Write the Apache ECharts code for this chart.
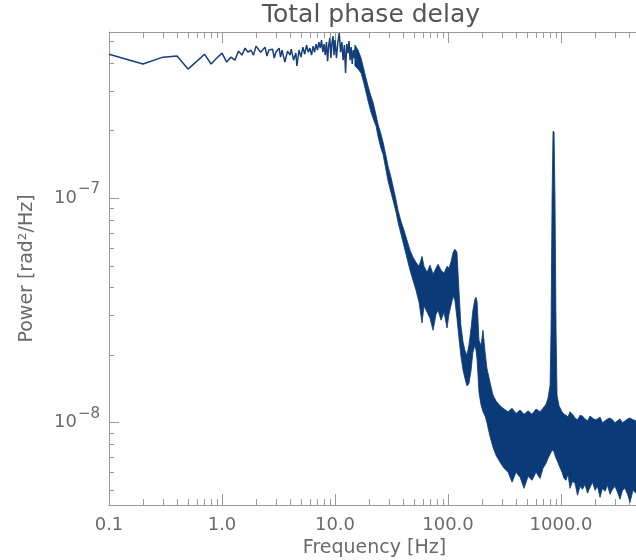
<!DOCTYPE html>
<html>
<head>
<meta charset="utf-8">
<title>Total phase delay</title>
<script src="https://cdn.jsdelivr.net/npm/echarts@6.0.0/dist/echarts.min.js"></script>
<style>
  html, body { margin: 0; padding: 0; background: #fff; }
  #chart { width: 636px; height: 560px; }
</style>
</head>
<body>
<div id="chart"></div>
<script>
// axis ranges: Hz / rad^2/Hz
const xMin = 0.1, xMax = 5000
const yMin = 4.3e-9, yMax = 5.5e-7

// tick positions (IDL style log axes)
const xLabelTicks = [0.1, 1, 10, 100, 1000]
const xMinorTicks = [0.2, 0.3, 0.4, 0.5, 0.6, 0.7, 0.8, 0.9, 2, 3, 4, 5, 6, 7, 8, 9,
  20, 30, 40, 50, 60, 70, 80, 90, 200, 300, 400, 500, 600, 700, 800, 900, 2000, 3000, 4000, 5000]
const yLabelTicks = [1e-8, 1e-7]
const yMinorTicks = [5e-9, 6e-9, 7e-9, 8e-9, 9e-9, 2e-8, 3e-8, 4e-8, 5e-8, 6e-8, 7e-8, 8e-8, 9e-8,
  2e-7, 3e-7, 4e-7, 5e-7]

// low frequency part: a single visible trace
const lowFreq = [0.1, 0.2, 0.3, 0.4, 0.5, 0.6, 0.7, 0.8, 0.9, 1.0, 1.1, 1.2, 1.3, 1.4, 1.5, 1.6, 1.7, 1.8, 1.9, 2.0,
  2.2, 2.4, 2.5, 2.6, 2.8, 2.9, 3.0, 3.2, 3.3, 3.4, 3.6, 3.8, 4.0, 4.1, 4.3, 4.5, 4.6, 4.8, 5.0,
  5.2, 5.4, 5.6, 5.8, 6.0, 6.2, 6.4, 6.6, 6.8, 7.0, 7.2, 7.4, 7.6, 7.8, 8.0, 8.2, 8.4, 8.6, 8.8, 9.0,
  9.2, 9.4, 9.6, 9.8, 10.0, 10.3, 10.6, 10.9, 11.2, 11.5, 11.8, 12.1, 12.4, 12.7, 13.0, 13.3, 13.6,
  13.9, 14.2, 14.5, 14.8, 15.1, 15.5, 16.0]
const lowPower = [43.8e-8, 39.6e-8, 42.5e-8, 43.0e-8, 37.6e-8, 40.8e-8, 43.8e-8, 39.6e-8, 42.1e-8, 44.3e-8,
  40.4e-8, 42.5e-8, 41.2e-8, 45.2e-8, 43.4e-8, 46.6e-8, 44.7e-8, 45.7e-8, 43.4e-8, 47.6e-8,
  44.7e-8, 47.1e-8, 43.0e-8, 45.7e-8, 46.1e-8, 42.1e-8, 44.7e-8, 46.6e-8, 42.5e-8, 45.7e-8,
  40.4e-8, 45.2e-8, 43.4e-8, 46.1e-8, 41.2e-8, 44.3e-8, 38.8e-8, 45.7e-8, 42.5e-8,
  47.1e-8, 43.8e-8, 48.1e-8, 44.7e-8, 46.6e-8, 43.4e-8, 47.6e-8, 44.7e-8, 48.6e-8, 45.7e-8,
  49.6e-8, 46.6e-8, 50.6e-8, 44.7e-8, 48.6e-8, 43.4e-8, 49.6e-8, 40.8e-8, 48.1e-8, 51.7e-8,
  42.1e-8, 49.1e-8, 52.7e-8, 43.4e-8, 50.6e-8, 42.1e-8, 49.6e-8, 54.4e-8, 44.7e-8, 49.6e-8,
  41.2e-8, 48.1e-8, 36.1e-8, 48.6e-8, 44.3e-8, 50.1e-8, 41.2e-8, 47.1e-8, 39.6e-8, 45.7e-8,
  42.1e-8, 46.6e-8, 40.4e-8, 42.1e-8]

// above ~15 Hz the spectrum is a dense noisy band: upper and lower envelope
const bandFreq = [15.0, 16.0, 17.0, 17.7, 18.8, 19.6, 20.8, 21.7, 23.1, 24.0,
  25.5, 26.6, 28.3, 29.4, 31.3, 32.6, 34.7, 36.1, 38.4, 40.8,
  43.4, 46.1, 49.0, 52.1, 55.4, 58.9, 61.3, 65.2, 69.3, 73.7,
  78.3, 81.6, 86.8, 92.2, 98.0, 102, 106, 111, 115, 120,
  125, 130, 136, 141, 147, 153, 160, 166, 173, 177,
  181, 188, 196, 204, 213, 221, 235, 250, 266, 289,
  313, 340, 369, 400, 434, 471, 511, 554, 601, 652,
  693, 737, 768, 800, 816, 833, 850, 868, 885, 904,
  922, 960, 1020, 1063, 1107, 1153, 1201, 1264, 1330, 1400,
  1473, 1550, 1631, 1716, 1806, 1900, 2000, 2104, 2214, 2329,
  2451, 2579, 2714, 2856, 3006, 3162, 3328, 3501, 3685, 3877,
  4080, 4338, 4613, 4802, 5000]
const bandHigh = [48.1e-8, 45.7e-8, 42.1e-8, 38.8e-8, 34.3e-8, 31.6e-8, 28.5e-8, 26.8e-8, 23.4e-8, 21.4e-8,
  19.3e-8, 17.8e-8, 15.4e-8, 14.0e-8, 12.4e-8, 11.3e-8, 9.80e-8, 8.84e-8, 7.90e-8, 7.20e-8,
  6.50e-8, 5.87e-8, 5.46e-8, 5.18e-8, 4.98e-8, 5.51e-8, 4.98e-8, 4.68e-8, 5.03e-8, 4.59e-8,
  4.88e-8, 5.08e-8, 4.78e-8, 4.63e-8, 4.98e-8, 4.88e-8, 5.18e-8, 5.75e-8, 5.93e-8, 5.75e-8,
  3.89e-8, 2.72e-8, 2.28e-8, 2.10e-8, 2.00e-8, 2.21e-8, 2.64e-8, 3.17e-8, 3.55e-8, 3.62e-8,
  3.44e-8, 2.33e-8, 2.21e-8, 2.58e-8, 2.06e-8, 1.75e-8, 1.52e-8, 1.33e-8, 1.25e-8, 1.19e-8,
  1.15e-8, 1.12e-8, 1.16e-8, 1.10e-8, 1.14e-8, 1.09e-8, 1.13e-8, 1.09e-8, 1.15e-8, 1.12e-8,
  1.16e-8, 1.21e-8, 1.29e-8, 1.47e-8, 2.58e-8, 9.80e-8, 19.9e-8, 19.7e-8, 9.80e-8, 2.58e-8,
  1.33e-8, 1.19e-8, 1.12e-8, 1.09e-8, 1.08e-8, 1.06e-8, 1.12e-8, 1.09e-8, 1.05e-8, 1.03e-8,
  1.08e-8, 1.07e-8, 1.04e-8, 1.02e-8, 1.07e-8, 1.05e-8, 1.03e-8, 1.04e-8, 1.06e-8, 1.00e-8,
  1.02e-8, 1.04e-8, 1.05e-8, 1.03e-8, 1.00e-8, 1.02e-8, 1.04e-8, 1.00e-8, 1.02e-8, 1.04e-8,
  1.05e-8, 1.03e-8, 1.02e-8, 1.00e-8, 1.03e-8]
const bandLow = [38.8e-8, 37.6e-8, 36.1e-8, 33.6e-8, 29.7e-8, 27.1e-8, 24.2e-8, 22.7e-8, 20.9e-8, 18.9e-8,
  16.7e-8, 15.7e-8, 13.3e-8, 12.0e-8, 10.6e-8, 9.80e-8, 8.66e-8, 7.82e-8, 6.91e-8, 6.11e-8,
  5.40e-8, 4.78e-8, 4.31e-8, 3.89e-8, 3.44e-8, 2.78e-8, 3.31e-8, 3.11e-8, 2.92e-8, 2.58e-8,
  3.04e-8, 3.17e-8, 2.86e-8, 3.11e-8, 2.64e-8, 3.04e-8, 3.31e-8, 3.66e-8, 3.51e-8, 2.92e-8,
  2.38e-8, 1.98e-8, 1.71e-8, 1.58e-8, 1.46e-8, 1.49e-8, 1.71e-8, 2.06e-8, 2.21e-8, 2.10e-8,
  1.90e-8, 1.36e-8, 1.20e-8, 1.12e-8, 1.07e-8, 1.00e-8, 0.870e-8, 0.777e-8, 0.716e-8, 0.666e-8,
  0.627e-8, 0.602e-8, 0.543e-8, 0.602e-8, 0.571e-8, 0.510e-8, 0.577e-8, 0.554e-8, 0.602e-8, 0.565e-8,
  0.627e-8, 0.659e-8, 0.694e-8, 0.723e-8, 0.738e-8, 0.753e-8, 0.753e-8, 0.738e-8, 0.716e-8, 0.694e-8,
  0.680e-8, 0.646e-8, 0.602e-8, 0.565e-8, 0.554e-8, 0.589e-8, 0.510e-8, 0.548e-8, 0.537e-8, 0.475e-8,
  0.521e-8, 0.505e-8, 0.531e-8, 0.485e-8, 0.515e-8, 0.543e-8, 0.500e-8, 0.521e-8, 0.465e-8, 0.510e-8,
  0.495e-8, 0.526e-8, 0.480e-8, 0.505e-8, 0.521e-8, 0.490e-8, 0.456e-8, 0.500e-8, 0.510e-8, 0.480e-8,
  0.442e-8, 0.500e-8, 0.485e-8, 0.510e-8, 0.480e-8]

const font = 'DejaVu Sans'
const axisColor = '#9a9a9a'
const textColor = '#6a6a6a'
const traceColor = '#173f7c'
const bandColor = '#0b3a78'
const lg = v => Math.log10(v)

// value axes in log10 space, only used to draw ticks / labels where IDL puts them
function tickAxis(dim, position, ticks, len, opts = {}) {
  const lo = dim === 'x' ? lg(xMin) : lg(yMin)
  const hi = dim === 'x' ? lg(xMax) : lg(yMax)
  return Object.assign({
    type: 'value',
    position,
    min: lo,
    max: hi,
    axisLine: {show: !!opts.line, onZero: false, lineStyle: {color: axisColor, width: 1}},
    axisTick: {show: true, inside: true, length: len, customValues: ticks.map(lg), lineStyle: {color: axisColor, width: 1}},
    axisLabel: {show: false},
    splitLine: {show: false}
  }, opts.extra || {})
}

const chart = echarts.init(document.getElementById('chart'))

chart.setOption({
  animation: false,
  backgroundColor: '#fff',
  title: {
    text: 'Total phase delay',
    left: 262,
    top: 3,
    padding: 0,
    textStyle: {fontFamily: font, fontSize: 25, fontWeight: 'normal', color: '#555'}
  },
  grid: {left: 109, right: -4, top: 32, bottom: 55, containLabel: false, outerBoundsMode: 'none'},
  xAxis: [
    {type: 'log', position: 'bottom', min: xMin, max: xMax, show: false, axisLine: {onZero: false}},
    tickAxis('x', 'bottom', xLabelTicks, 11, {
      line: true,
      extra: {
        name: 'Frequency [Hz]',
        nameLocation: 'middle',
        nameGap: 31,
        nameTextStyle: {fontFamily: font, fontSize: 19, color: textColor},
        axisLabel: {
          show: true,
          margin: 11,
          customValues: xLabelTicks.map(lg),
          fontFamily: font,
          fontSize: 18,
          color: textColor,
          formatter: v => Math.pow(10, v).toFixed(1)
        }
      }
    }),
    tickAxis('x', 'bottom', xMinorTicks, 6),
    tickAxis('x', 'top', xLabelTicks, 11, {line: true}),
    tickAxis('x', 'top', xMinorTicks, 6)
  ],
  yAxis: [
    {type: 'log', position: 'left', min: yMin, max: yMax, show: false, axisLine: {onZero: false}},
    tickAxis('y', 'left', yLabelTicks, 10, {
      line: true,
      extra: {
        name: 'Power [rad²/Hz]',
        nameLocation: 'middle',
        nameGap: 72,
        nameTextStyle: {fontFamily: font, fontSize: 19, color: textColor},
        axisLabel: {
          show: true,
          margin: 9,
          customValues: yLabelTicks.map(lg),
          formatter: v => '{b|10}{s|\u2212' + Math.abs(Math.round(v)) + '}',
          rich: {
            b: {fontFamily: font, fontSize: 18, color: textColor},
            s: {fontFamily: font, fontSize: 15, color: textColor, padding: [0, 0, 18, 1]}
          }
        }
      }
    }),
    tickAxis('y', 'left', yMinorTicks, 5)
  ],
  series: [
    {
      name: 'low',
      type: 'line',
      xAxisIndex: 0,
      yAxisIndex: 0,
      showSymbol: false,
      lineStyle: {color: traceColor, width: 1.5},
      data: lowFreq.map((f, i) => [f, lowPower[i]])
    },
    {
      name: 'band',
      type: 'custom',
      xAxisIndex: 0,
      yAxisIndex: 0,
      clip: true,
      encode: {x: 0, y: [1, 2]},
      data: bandFreq.map((f, i) => [f, bandHigh[i], bandLow[i]]),
      renderItem: (params, api) => {
        // one polygon for the whole band: upper edge left->right, lower edge back
        if (params.dataIndex !== 0) return null
        const pts = []
        for (let i = 0; i < bandFreq.length; i++) pts.push(api.coord([bandFreq[i], bandHigh[i]]))
        for (let i = bandFreq.length - 1; i >= 0; i--) pts.push(api.coord([bandFreq[i], bandLow[i]]))
        return {
          type: 'polygon',
          shape: {points: pts},
          style: {fill: bandColor, stroke: bandColor, lineWidth: 0.8}
        }
      }
    }
  ]
})
</script>
</body>
</html>
